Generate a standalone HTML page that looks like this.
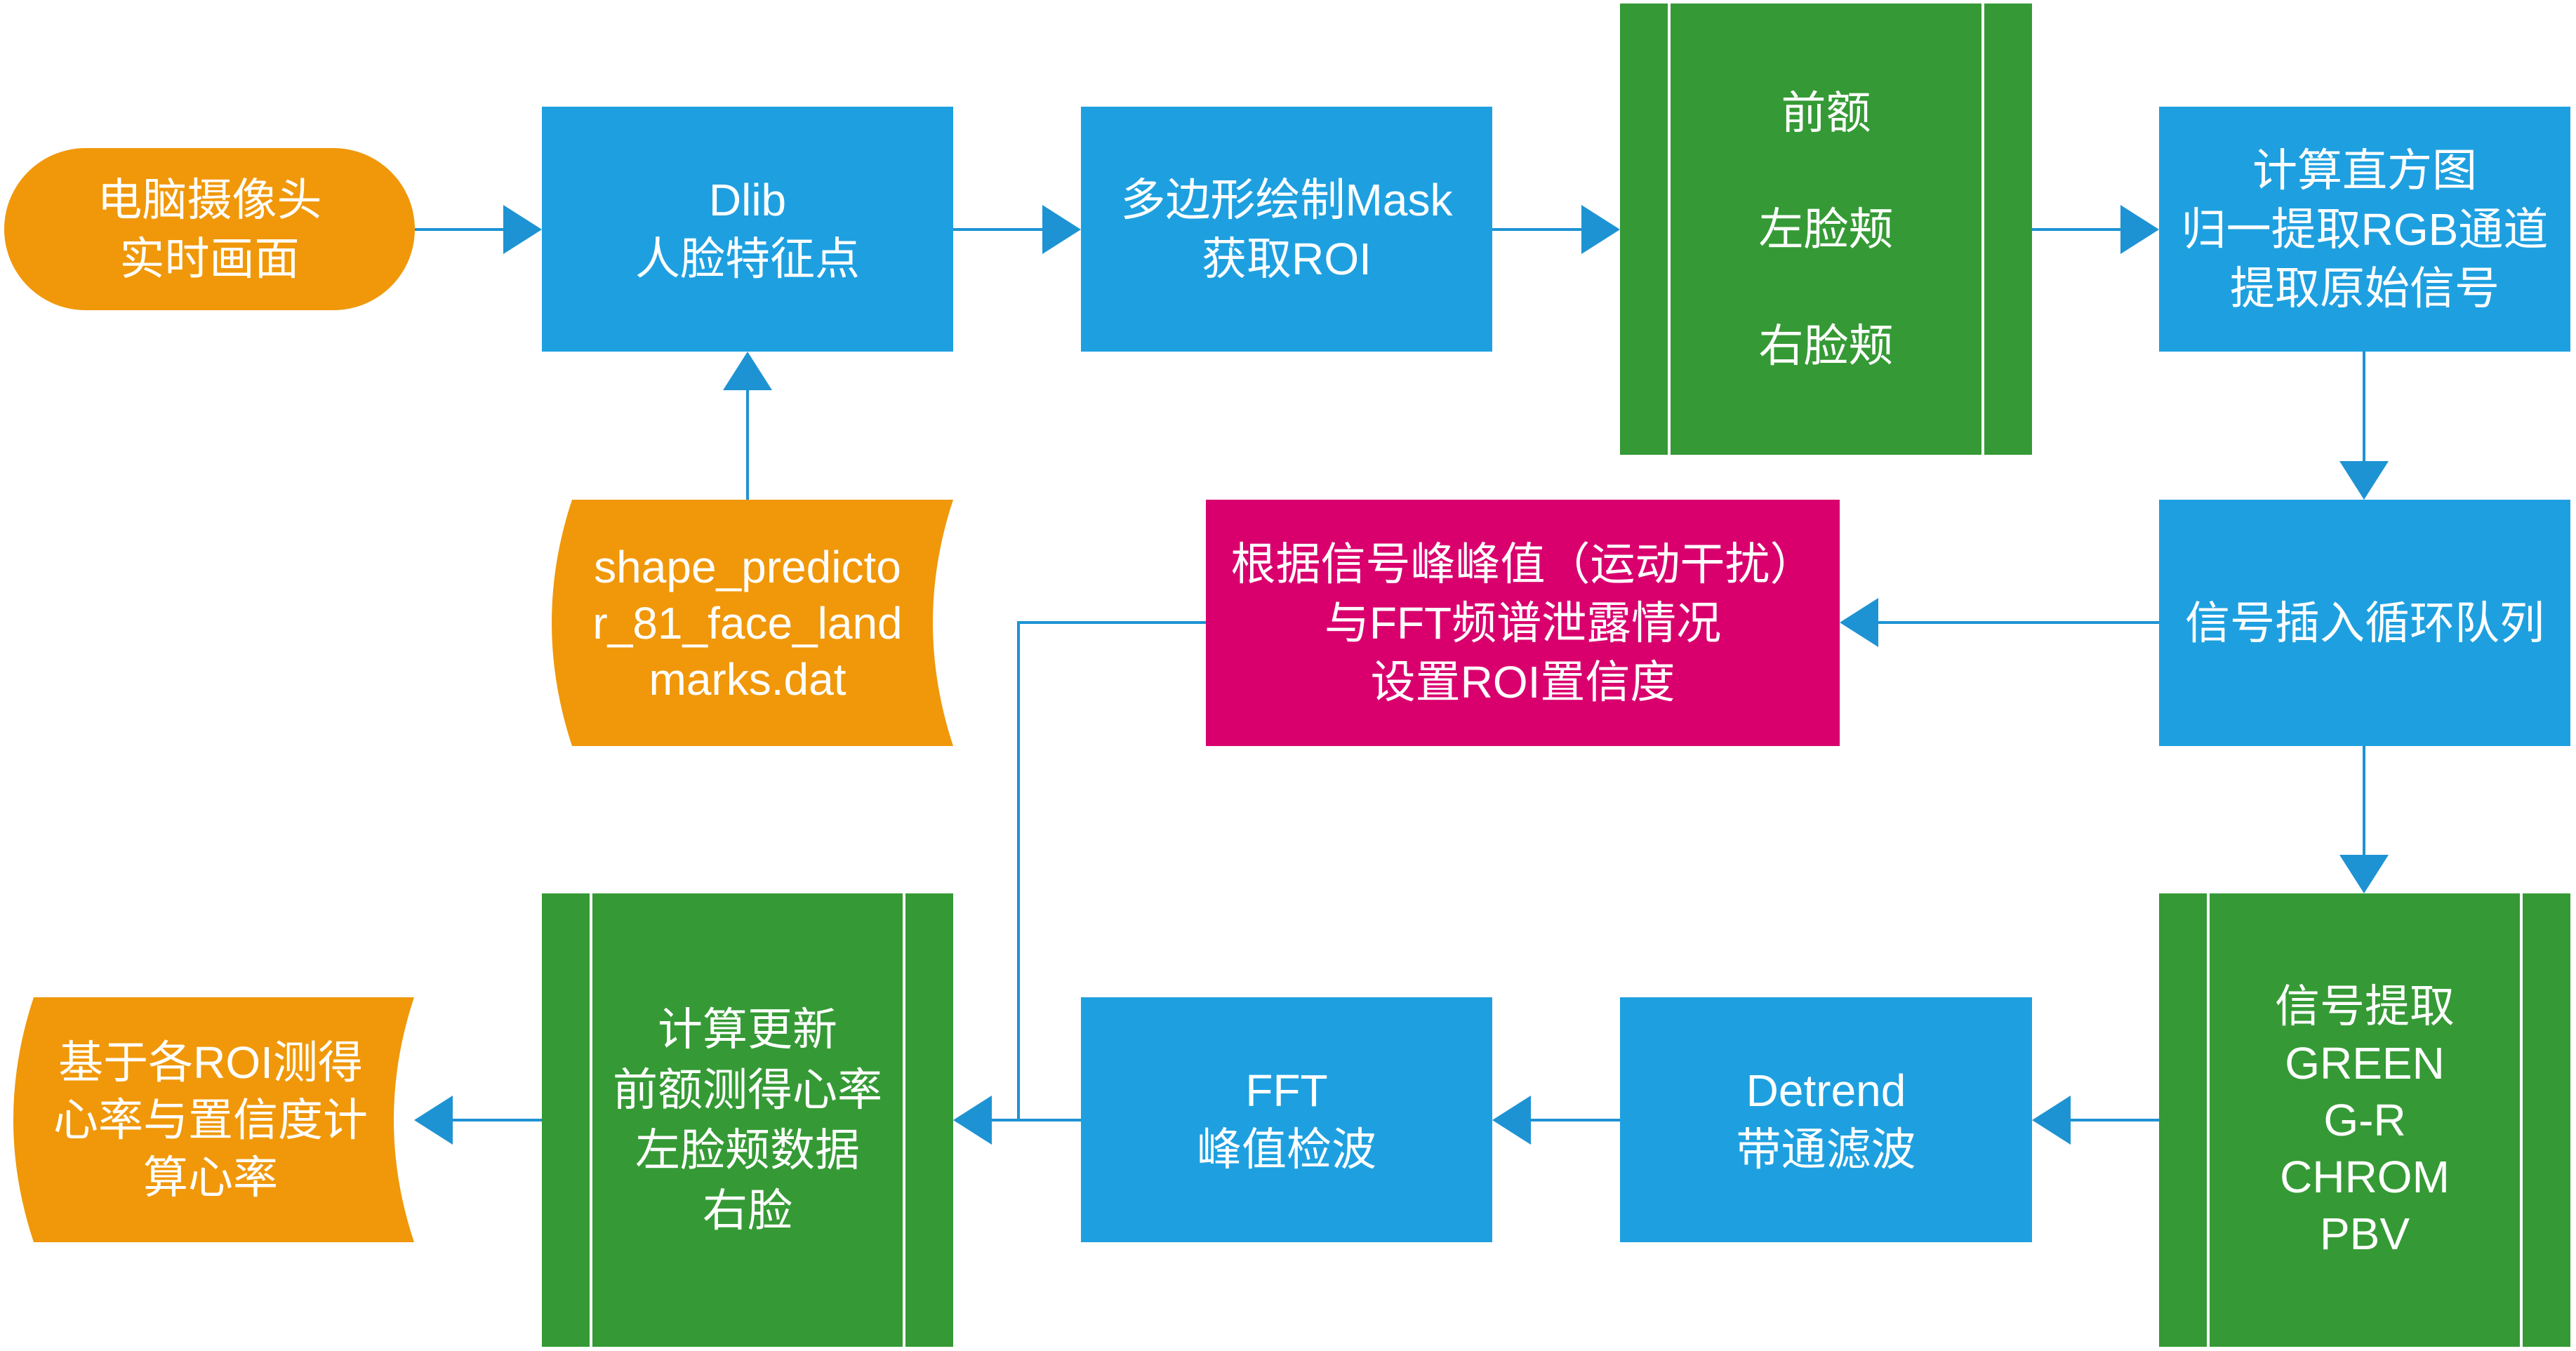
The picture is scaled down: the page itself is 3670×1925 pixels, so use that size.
<!DOCTYPE html>
<html><head><meta charset="utf-8"><style>
html,body{margin:0;padding:0;background:#fff;}
#c{position:relative;width:3670px;height:1925px;overflow:hidden;}
svg{position:absolute;left:0;top:0;}
.t{position:absolute;display:flex;align-items:center;justify-content:center;text-align:center;color:#fff;font-family:"Liberation Sans","Noto Sans CJK SC",sans-serif;font-size:64px;line-height:84px;}
</style></head><body><div id="c">
<svg width="3670" height="1925" viewBox="0 0 3670 1925">
<g fill="#1ea0e0">
<rect x="772" y="152" width="586" height="349"/>
<rect x="1540" y="152" width="586" height="349"/>
<rect x="3076" y="152" width="586" height="349"/>
<rect x="3076" y="712" width="586" height="351"/>
<rect x="2308" y="1421" width="587" height="349"/>
<rect x="1540" y="1421" width="586" height="349"/>
</g>
<rect x="1718" y="712" width="903" height="351" fill="#d9006e"/>
<g fill="#f0980a">
<rect x="6" y="211" width="585" height="231" rx="116" ry="116"/>
<path d="M815 712 L1358 712 Q1300 887 1358 1063 L815 1063 Q757 887 815 712 Z"/>
<path d="M48 1421 L590 1421 Q532 1596 590 1770 L48 1770 Q-10 1596 48 1421 Z"/>
</g>
<g fill="#359a35">
<rect x="2308" y="5" width="587" height="643"/>
<rect x="3076" y="1273" width="586" height="646"/>
<rect x="772" y="1273" width="586" height="646"/>
</g>
<g stroke="#fff" stroke-width="4">
<line x1="2378" y1="5" x2="2378" y2="648"/><line x1="2825" y1="5" x2="2825" y2="648"/>
<line x1="3146" y1="1273" x2="3146" y2="1919"/><line x1="3592" y1="1273" x2="3592" y2="1919"/>
<line x1="842" y1="1273" x2="842" y2="1919"/><line x1="1288" y1="1273" x2="1288" y2="1919"/>
</g>
<g stroke="#1e93d3" stroke-width="4" fill="none">
<line x1="591" y1="327" x2="730" y2="327"/>
<line x1="1358" y1="327" x2="1498" y2="327"/>
<line x1="2126" y1="327" x2="2266" y2="327"/>
<line x1="2895" y1="327" x2="3034" y2="327"/>
<line x1="3368" y1="501" x2="3368" y2="670"/>
<line x1="3368" y1="1063" x2="3368" y2="1231"/>
<line x1="3076" y1="887" x2="2660" y2="887"/>
<line x1="3076" y1="1596" x2="2936" y2="1596"/>
<line x1="2308" y1="1596" x2="2168" y2="1596"/>
<line x1="1540" y1="1596" x2="1400" y2="1596"/>
<line x1="772" y1="1596" x2="632" y2="1596"/>
<line x1="1065" y1="712" x2="1065" y2="540"/>
<polyline points="1718,887 1451,887 1451,1596"/>
</g>
<g fill="#1e93d3">
<polygon points="772,327 717,292 717,362"/>
<polygon points="1540,327 1485,292 1485,362"/>
<polygon points="2308,327 2253,292 2253,362"/>
<polygon points="3076,327 3021,292 3021,362"/>
<polygon points="3368,712 3333,657 3403,657"/>
<polygon points="3368,1273 3333,1218 3403,1218"/>
<polygon points="2621,887 2676,852 2676,922"/>
<polygon points="2895,1596 2950,1561 2950,1631"/>
<polygon points="2126,1596 2181,1561 2181,1631"/>
<polygon points="1358,1596 1413,1561 1413,1631"/>
<polygon points="590,1596 645,1561 645,1631"/>
<polygon points="1065,501 1030,556 1100,556"/>
</g>
</svg>
<div class="t" style="left:6px;top:211px;width:585px;height:231px;">电脑摄像头<br>实时画面</div>
<div class="t" style="left:772px;top:152px;width:586px;height:349px;">Dlib<br>人脸特征点</div>
<div class="t" style="left:1540px;top:152px;width:586px;height:349px;">多边形绘制Mask<br>获取ROI</div>
<div class="t" style="left:2378px;top:5px;width:447px;height:643px;line-height:166px;">前额<br>左脸颊<br>右脸颊</div>
<div class="t" style="left:3076px;top:152px;width:586px;height:349px;">计算直方图<br>归一提取RGB通道<br>提取原始信号</div>
<div class="t" style="left:3076px;top:712px;width:586px;height:351px;">信号插入循环队列</div>
<div class="t" style="left:1718px;top:712px;width:903px;height:351px;">根据信号峰峰值（运动干扰）<br>与FFT频谱泄露情况<br>设置ROI置信度</div>
<div class="t" style="left:772px;top:712px;width:586px;height:351px;line-height:80px;">shape_predicto<br>r_81_face_land<br>marks.dat</div>
<div class="t" style="left:3146px;top:1273px;width:446px;height:646px;line-height:81px;">信号提取<br>GREEN<br>G-R<br>CHROM<br>PBV</div>
<div class="t" style="left:2308px;top:1421px;width:587px;height:349px;">Detrend<br>带通滤波</div>
<div class="t" style="left:1540px;top:1421px;width:586px;height:349px;">FFT<br>峰值检波</div>
<div class="t" style="left:842px;top:1273px;width:446px;height:646px;line-height:86px;">计算更新<br>前额测得心率<br>左脸颊数据<br>右脸</div>
<div class="t" style="left:20px;top:1421px;width:560px;height:349px;line-height:82px;">基于各ROI测得<br>心率与置信度计<br>算心率</div>
</div></body></html>
